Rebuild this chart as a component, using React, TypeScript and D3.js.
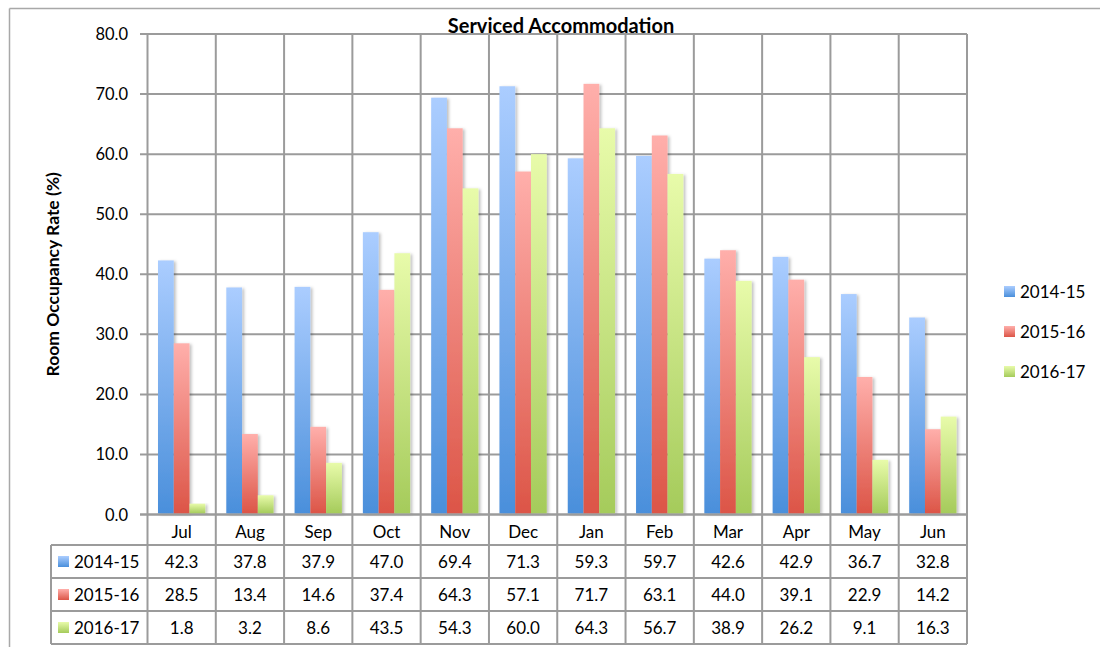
import * as d3 from "d3";
import React from "react";

const months = ["Jul", "Aug", "Sep", "Oct", "Nov", "Dec", "Jan", "Feb", "Mar", "Apr", "May", "Jun"];
const seriesNames = ["2014-15", "2015-16", "2016-17"];
const y2014 = [42.3, 37.8, 37.9, 47.0, 69.4, 71.3, 59.3, 59.7, 42.6, 42.9, 36.7, 32.8];
const y2015 = [28.5, 13.4, 14.6, 37.4, 64.3, 57.1, 71.7, 63.1, 44.0, 39.1, 22.9, 14.2];
const y2016 = [1.8, 3.2, 8.6, 43.5, 54.3, 60.0, 64.3, 56.7, 38.9, 26.2, 9.1, 16.3];
const yTicks = [0, 10, 20, 30, 40, 50, 60, 70, 80];

const series = [y2014, y2015, y2016];
const gradients = [
  ["#abcdff", "#4a8fdb"],
  ["#ffafab", "#dc5547"],
  ["#e8fbaa", "#a5cb5b"],
];

const FONT = "Lato, 'Open Sans', sans-serif";
const GRID = "#9b9b9b";

export default function App() {
  const left = 147.5;
  const right = 967;
  const top = 34;
  const bottom = 514.5;
  const rowH = 33;
  const headH = 30.5;
  const tableLeft = 51;

  const x = d3.scaleBand<string>().domain(months).range([left, right]);
  const inner = d3
    .scaleBand<number>()
    .domain([0, 1, 2])
    .range([10.5, x.bandwidth() - 10.5]);
  const y = d3.scaleLinear().domain([0, 80]).range([bottom, top]);

  const rowsTop = bottom + headH;

  return (
    <svg
      width={1100}
      height={647}
      style={{ position: "absolute", left: 0, top: 0, background: "#fff" }}
      fontFamily={FONT}
    >
      <defs>
        {gradients.map((g, i) => (
          <linearGradient key={i} id={`grad${i}`} x1="0" y1="0" x2="0" y2="1">
            <stop offset="0%" stopColor={g[0]} />
            <stop offset="100%" stopColor={g[1]} />
          </linearGradient>
        ))}
        <filter id="shadow" x="-20%" y="-5%" width="160%" height="110%">
          <feDropShadow dx="2" dy="1" stdDeviation="1.5" floodColor="#000" floodOpacity="0.25" />
        </filter>
      </defs>

      {/* outer chart frame */}
      <line x1={9.5} y1={8.5} x2={1100} y2={8.5} stroke="#a8a8a8" strokeWidth={1.5} />
      <line x1={9.5} y1={8.5} x2={9.5} y2={647} stroke="#a8a8a8" strokeWidth={1.5} />

      <text x={561} y={32.5} textAnchor="middle" fontWeight="bold" fontSize={20}>
        Serviced Accommodation
      </text>

      {/* horizontal grid + ticks */}
      {yTicks.map((t) => (
        <g key={t}>
          <line x1={140} x2={right} y1={y(t)} y2={y(t)} stroke={GRID} strokeWidth={2} />
          <text x={128} y={y(t) + 6} textAnchor="end" fontSize={16.5}>
            {t.toFixed(1)}
          </text>
        </g>
      ))}

      {/* vertical grid lines down through table */}
      {months.map((m) => (
        <line key={m} x1={x(m)} x2={x(m)} y1={top} y2={rowsTop + rowH * 3} stroke={GRID} strokeWidth={2} />
      ))}
      <line x1={right} x2={right} y1={top} y2={rowsTop + rowH * 3} stroke={GRID} strokeWidth={2} />

      {/* bars */}
      {series.map((vals, si) =>
        vals.map((v, i) => (
          <rect
            key={`${si}-${i}`}
            x={(x(months[i]) as number) + (inner(si) as number)}
            y={y(v)}
            width={inner.bandwidth()}
            height={bottom - 1 - y(v)}
            fill={`url(#grad${si})`}
            filter="url(#shadow)"
          />
        ))
      )}
      {/* redraw baseline on top */}
      <line x1={140} x2={right} y1={bottom} y2={bottom} stroke={GRID} strokeWidth={2} />

      <text
        transform={`translate(59, ${(top + bottom) / 2}) rotate(-90)`}
        textAnchor="middle"
        fontWeight="bold"
        fontSize={17.5}
      >
        Room Occupancy Rate (%)
      </text>

      {/* data table */}
      {months.map((m) => (
        <text key={m} x={(x(m) as number) + x.bandwidth() / 2} y={bottom + 23} textAnchor="middle" fontSize={17}>
          {m}
        </text>
      ))}
      {[0, 1, 2, 3].map((r) => (
        <line
          key={r}
          x1={tableLeft}
          x2={right}
          y1={rowsTop + r * rowH}
          y2={rowsTop + r * rowH}
          stroke={GRID}
          strokeWidth={2}
        />
      ))}
      <line x1={tableLeft} x2={tableLeft} y1={rowsTop} y2={rowsTop + rowH * 3} stroke={GRID} strokeWidth={2} />
      {series.map((vals, si) => (
        <g key={si}>
          <rect x={58} y={rowsTop + si * rowH + 11} width={11} height={11} fill={`url(#grad${si})`} />
          <text x={74} y={rowsTop + si * rowH + 23} fontSize={17}>
            {seriesNames[si]}
          </text>
          {vals.map((v, i) => (
            <text
              key={i}
              x={(x(months[i]) as number) + x.bandwidth() / 2}
              y={rowsTop + si * rowH + 23}
              textAnchor="middle"
              fontSize={17}
            >
              {v.toFixed(1)}
            </text>
          ))}
        </g>
      ))}

      {/* legend */}
      {seriesNames.map((n, i) => (
        <g key={n} transform={`translate(1004, ${286 + i * 40})`}>
          <rect x={0} y={0} width={11} height={11} fill={`url(#grad${i})`} />
          <text x={16} y={12} fontSize={17}>
            {n}
          </text>
        </g>
      ))}
    </svg>
  );
}
